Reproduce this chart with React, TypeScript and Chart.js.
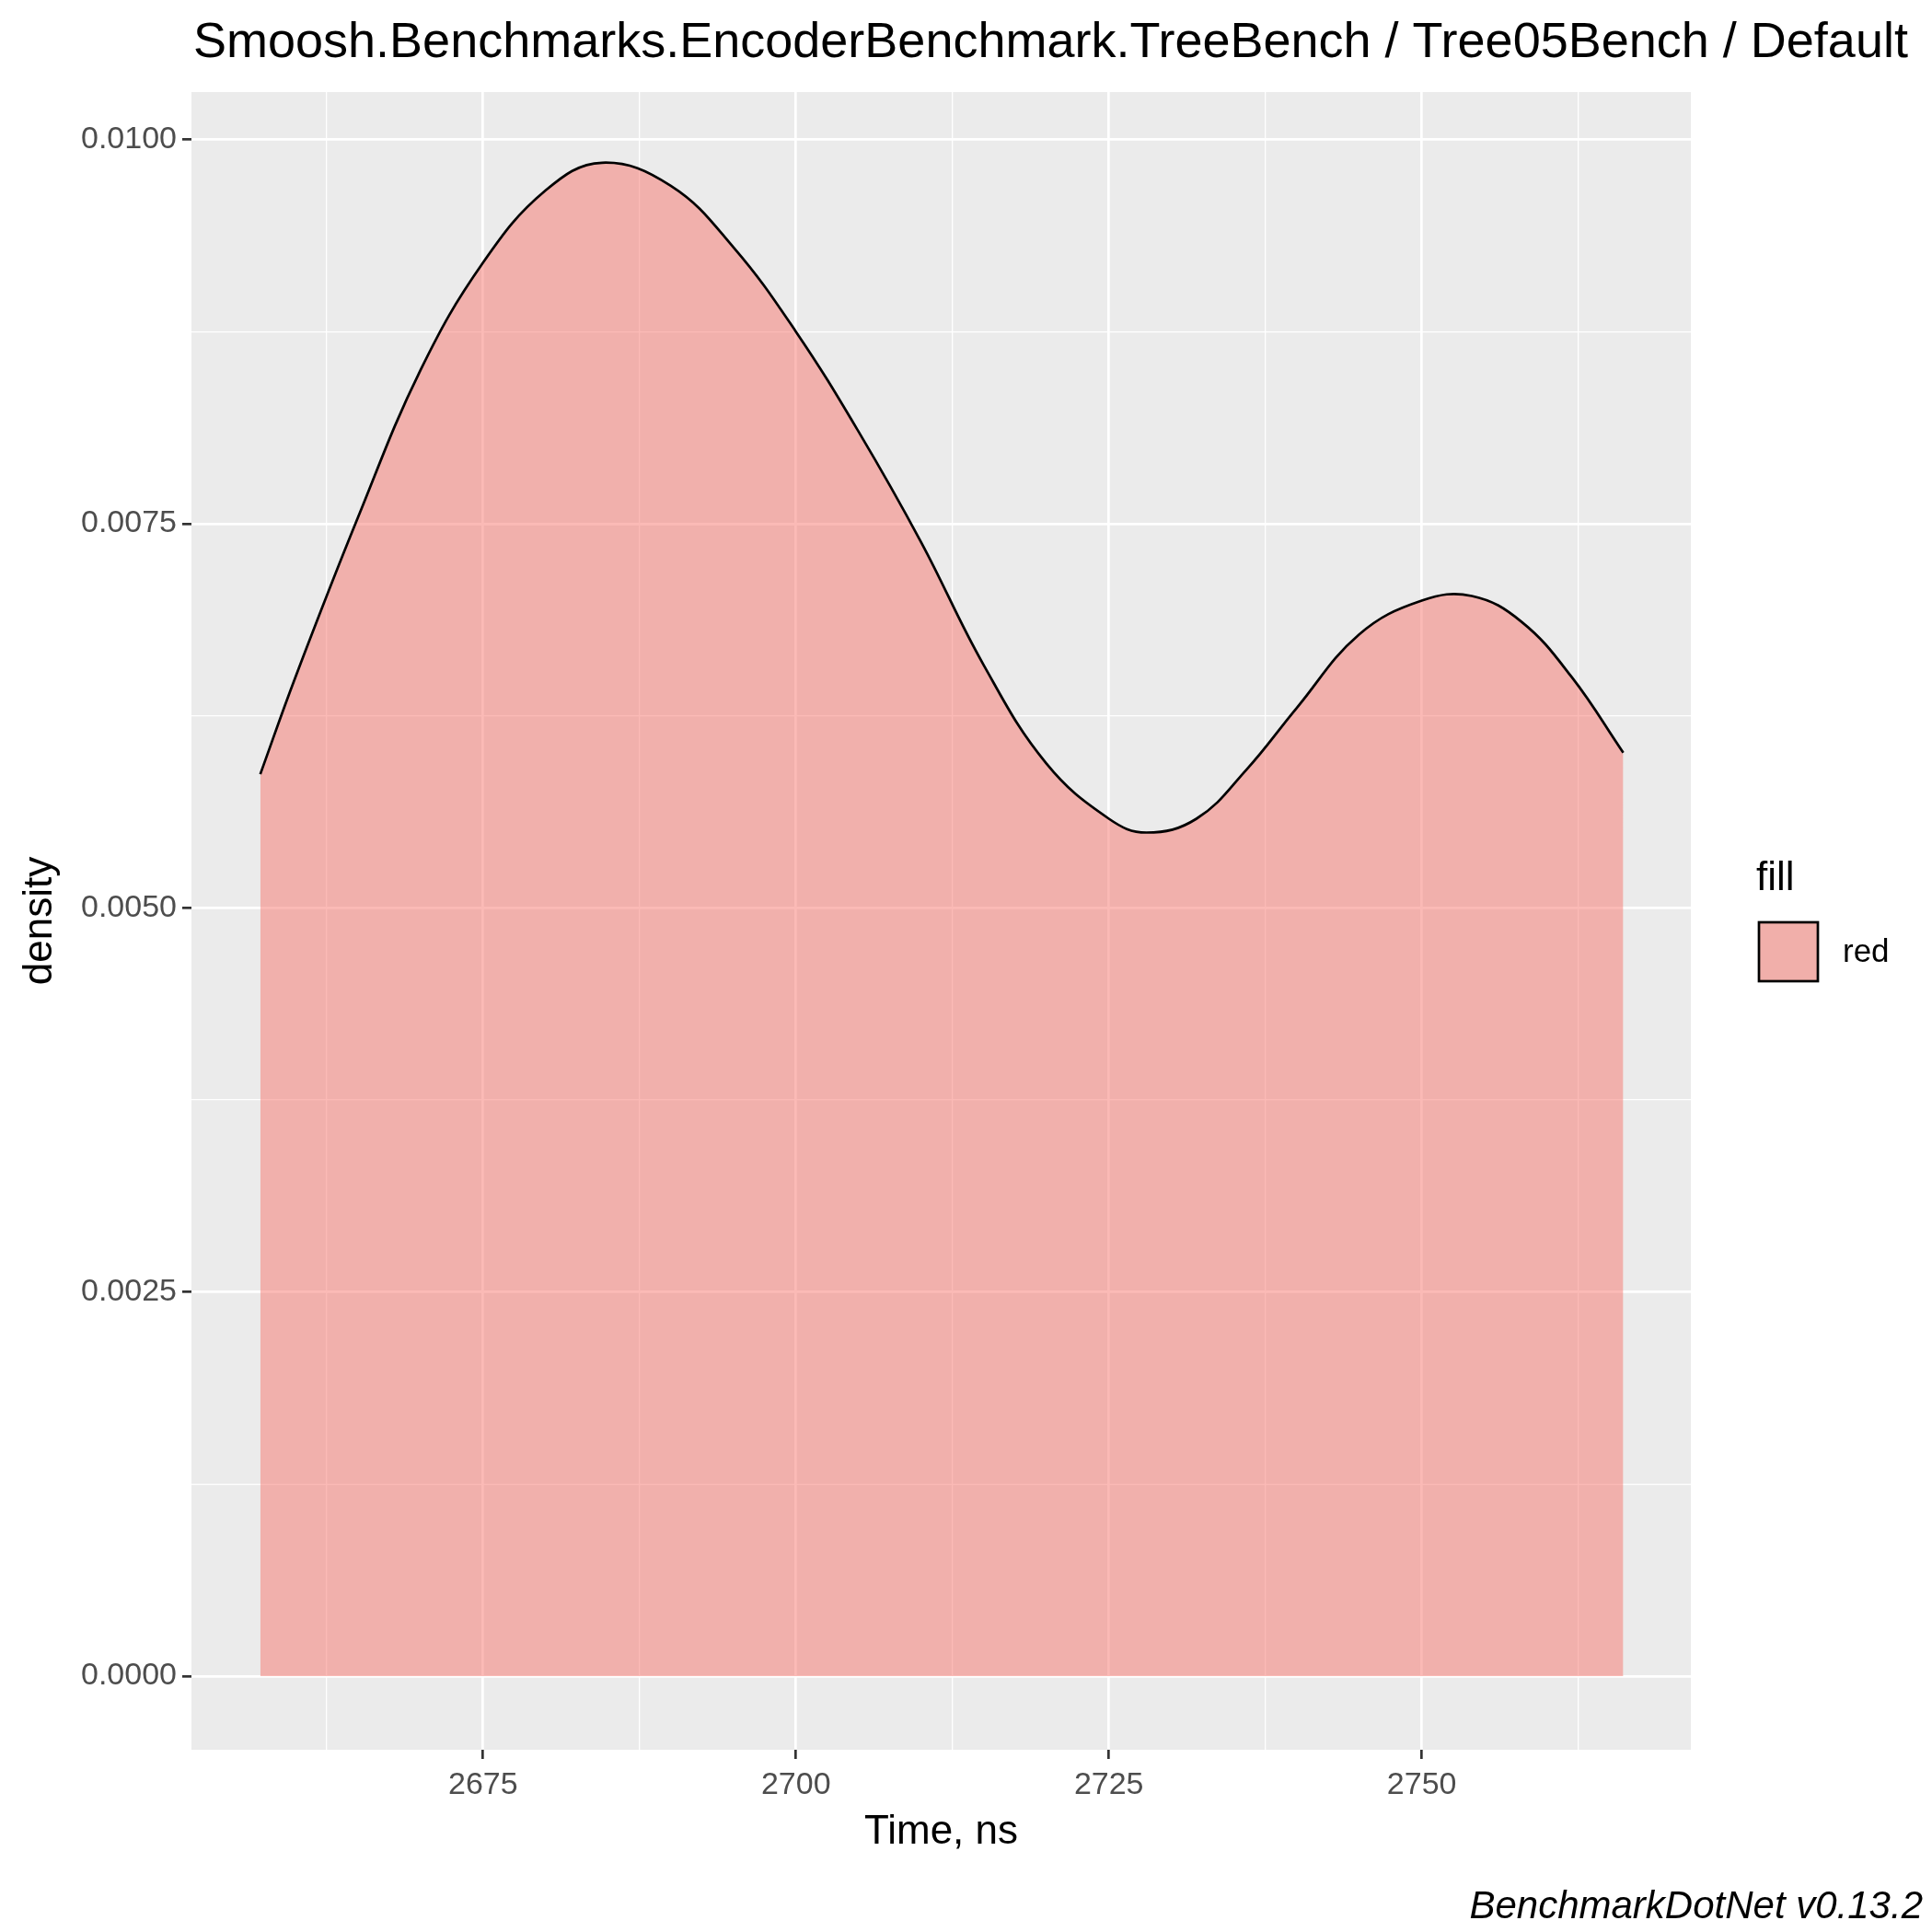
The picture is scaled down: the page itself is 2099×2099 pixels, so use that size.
import { useEffect, useRef } from "react";
import Chart from "chart.js/auto";

const timeNs = [2657.2, 2660, 2665, 2670, 2675, 2680, 2684.5, 2690, 2695, 2700, 2705, 2710, 2715, 2720, 2725, 2728, 2732, 2736, 2740, 2745, 2750, 2754, 2758, 2762, 2766.1];
const density = [0.00587, 0.0065, 0.00754, 0.0085, 0.0092, 0.00967, 0.00985, 0.0097, 0.0093, 0.00875, 0.0081, 0.00738, 0.00658, 0.00594, 0.00558, 0.00549, 0.00558, 0.0059, 0.0063, 0.00678, 0.007, 0.00703, 0.00686, 0.0065, 0.00601];

const titleText = "Smoosh.Benchmarks.EncoderBenchmark.TreeBench / Tree05Bench / Default";
const xTitle = "Time, ns";
const yTitle = "density";
const legendTitle = "fill";
const legendLabel = "red";
const caption = "BenchmarkDotNet v0.13.2";

const FONT = "'Liberation Sans', Arial, sans-serif";
const FILL = "rgba(248,118,109,0.5)";

const isMajor = (v: number, step: number) => Math.abs(v / step - Math.round(v / step)) < 1e-6;

const decorations = {
  id: "decorations",
  beforeDraw(chart: any) {
    const { ctx, chartArea: a } = chart;
    ctx.save();
    ctx.fillStyle = "#EBEBEB";
    ctx.fillRect(a.left, a.top, a.right - a.left, a.bottom - a.top);
    ctx.restore();
  },
  afterDraw(chart: any) {
    const { ctx, chartArea: a } = chart;
    ctx.save();
    ctx.fillStyle = "#000";
    ctx.textBaseline = "middle";
    ctx.font = `54px ${FONT}`;
    ctx.fillText(titleText, 210, 47);
    ctx.font = `44px ${FONT}`;
    ctx.fillText(legendTitle, 1908, 955);
    ctx.textAlign = "center";
    ctx.fillText(xTitle, (a.left + a.right) / 2, 1991);
    ctx.save();
    ctx.translate(44, (a.top + a.bottom) / 2);
    ctx.rotate(-Math.PI / 2);
    ctx.fillText(yTitle, 0, 0);
    ctx.restore();
    ctx.textAlign = "left";
    ctx.fillStyle = "#F1AFAA";
    ctx.fillRect(1911, 1002, 64, 64);
    ctx.strokeStyle = "#000";
    ctx.lineWidth = 2.7;
    ctx.strokeRect(1911, 1002, 64, 64);
    ctx.fillStyle = "#000";
    ctx.font = `35px ${FONT}`;
    ctx.fillText(legendLabel, 2002, 1035);
    ctx.font = `italic 42px ${FONT}`;
    ctx.textAlign = "right";
    ctx.fillText(caption, 2089, 2072);
    ctx.restore();
  },
};

const App = () => {
  const ref = useRef<HTMLCanvasElement>(null);
  useEffect(() => {
    const chart = new Chart(ref.current as HTMLCanvasElement, {
      type: "line",
      data: {
        datasets: [
          {
            data: timeNs.map((x, i) => ({ x, y: density[i] })),
            borderColor: "#000",
            borderWidth: 2.7,
            backgroundColor: FILL,
            fill: "origin",
            pointRadius: 0,
            tension: 0.4,
          },
        ],
      },
      options: {
        animation: false,
        responsive: false,
        devicePixelRatio: 1,
        layout: { padding: { top: 100, right: 262, left: 0, bottom: 0 } },
        plugins: { legend: { display: false }, title: { display: false }, tooltip: { enabled: false } },
        scales: {
          x: {
            type: "linear",
            min: 2651.7,
            max: 2771.5,
            afterFit: (s: any) => { s.height = 198; },
            ticks: {
              stepSize: 12.5,
              includeBounds: false,
              autoSkip: false,
              maxRotation: 0,
              color: "#4D4D4D",
              font: { family: FONT, size: 34 },
              padding: 8,
              callback: (v: any) => (isMajor(Number(v), 25) ? String(v) : ""),
            },
            grid: {
              color: "#FFFFFF",
              lineWidth: (c: any) => (isMajor(c.tick.value, 25) ? 2.7 : 1.3),
              tickLength: 10,
              tickColor: (c: any) => (isMajor(c.tick.value, 25) ? "#333333" : "rgba(0,0,0,0)"),
            },
            border: { display: false },
          },
          y: {
            min: -0.00048,
            max: 0.01031,
            afterFit: (s: any) => { s.width = 208; },
            ticks: {
              stepSize: 0.00125,
              includeBounds: false,
              autoSkip: false,
              color: "#4D4D4D",
              font: { family: FONT, size: 34 },
              padding: 6,
              callback: (v: any) => (isMajor(Number(v), 0.0025) ? Number(v).toFixed(4) : ""),
            },
            grid: {
              color: "#FFFFFF",
              lineWidth: (c: any) => (isMajor(c.tick.value, 0.0025) ? 2.7 : 1.3),
              tickLength: 10,
              tickColor: (c: any) => (isMajor(c.tick.value, 0.0025) ? "#333333" : "rgba(0,0,0,0)"),
            },
            border: { display: false },
          },
        },
      } as any,
      plugins: [decorations],
    });
    return () => chart.destroy();
  }, []);

  return (
    <div style={{ position: "absolute", left: 0, top: 0, width: 2099, height: 2099, background: "#fff" }}>
      <canvas ref={ref} width={2099} height={2099} />
    </div>
  );
};

export default App;
